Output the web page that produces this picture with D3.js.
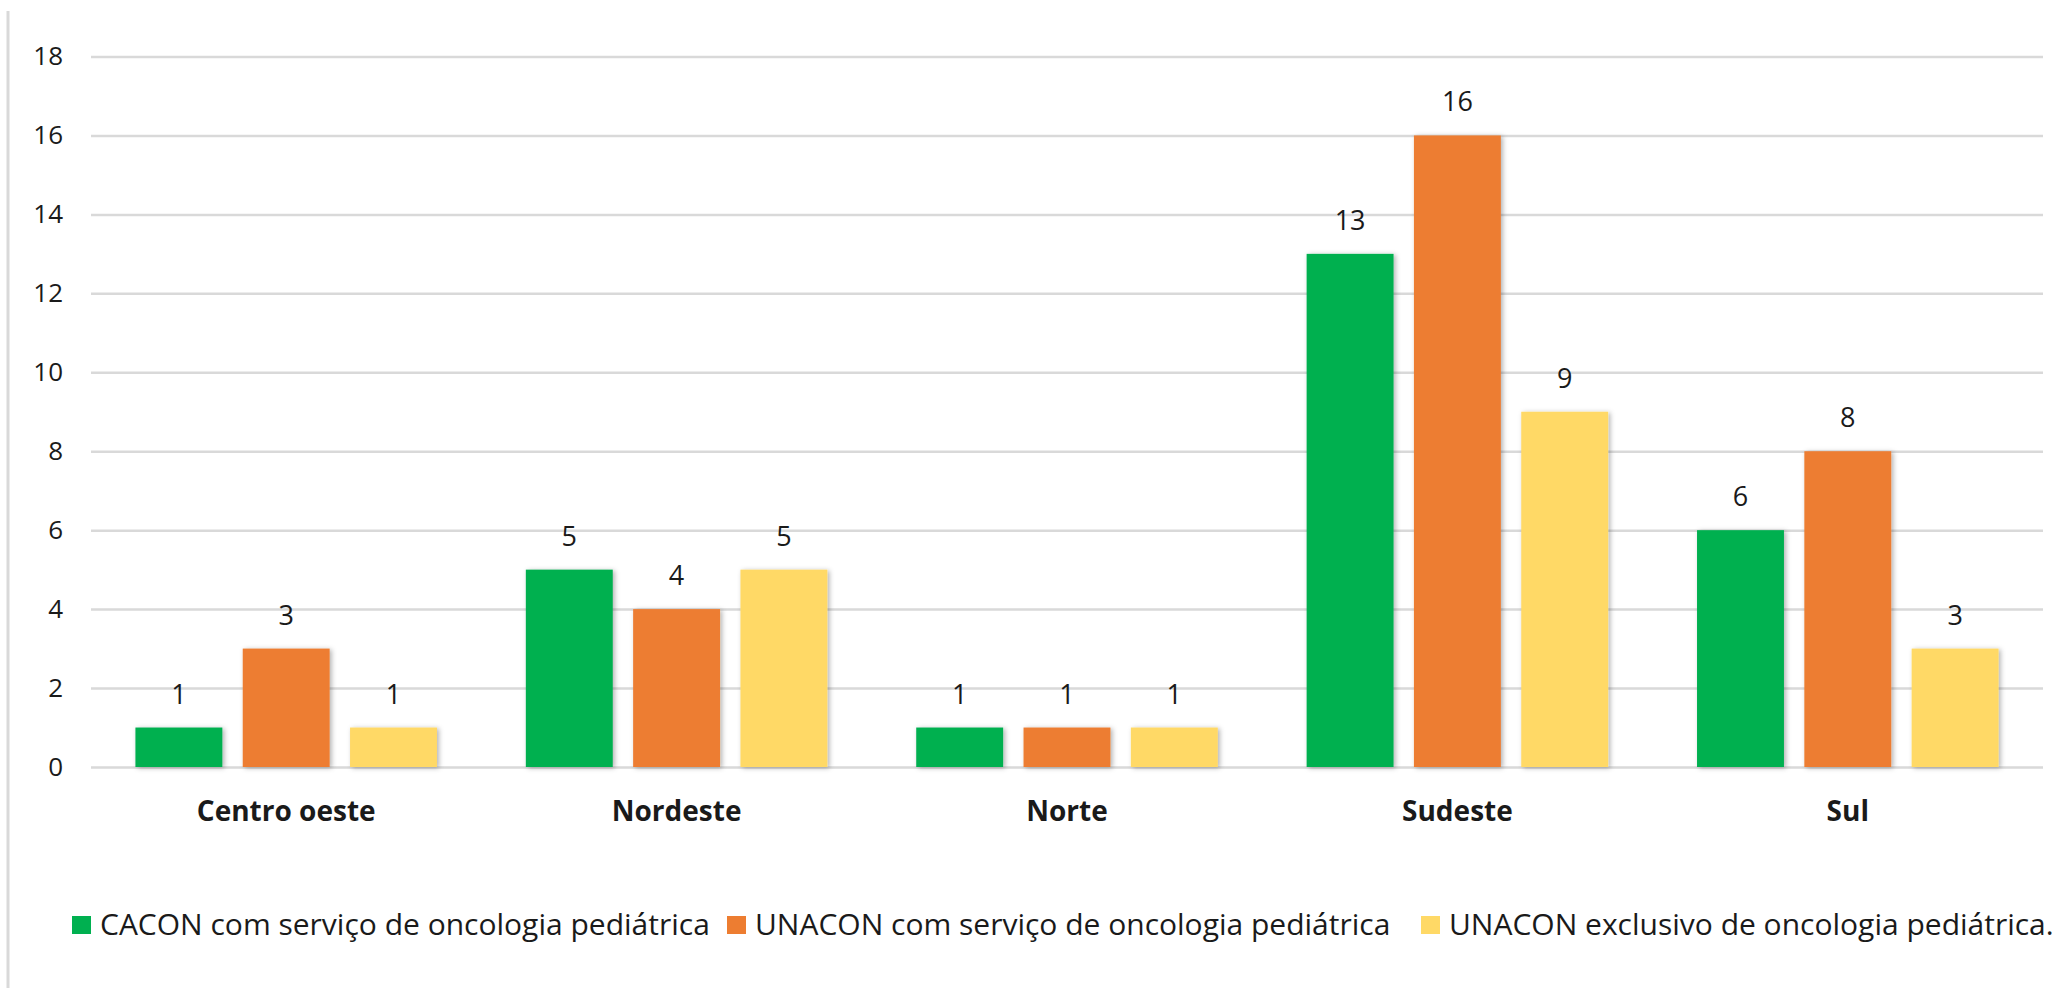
<!DOCTYPE html>
<html>
<head>
<meta charset="utf-8">
<script src="https://cdn.jsdelivr.net/npm/d3@7"></script>
<style>
  body { margin: 0; background: #fff; }
  svg { display: block; }
  text { font-family: "Open Sans", Lato, sans-serif; fill: #1a1a1a; }
</style>
</head>
<body>
<div class="chart"></div>
<script>
const regions = ["Centro oeste", "Nordeste", "Norte", "Sudeste", "Sul"]
const seriesNames = [
  "CACON com serviço de oncologia pediátrica",
  "UNACON com serviço de oncologia pediátrica",
  "UNACON exclusivo de oncologia pediátrica."
]
const cacon = [1, 5, 1, 13, 6]
const unaconServico = [3, 4, 1, 16, 8]
const unaconExclusivo = [1, 5, 1, 9, 3]
const yTicks = [0, 2, 4, 6, 8, 10, 12, 14, 16, 18]
const colors = ["#00B050", "#ED7D31", "#FFD966"]

let width = 2060, height = 988
let margin = { left: 91, right: 17, top: 56.5, bottom: 221 }
let svg = d3.select(".chart")
  .append("svg")
  .attr("width", width)
  .attr("height", height)

// sombra das barras
let defs = svg.append("defs")
let filter = defs.append("filter")
  .attr("id", "shadow")
  .attr("x", "-20%").attr("y", "-20%")
  .attr("width", "140%").attr("height", "140%")
filter.append("feDropShadow")
  .attr("dx", 2).attr("dy", 1)
  .attr("stdDeviation", 2.5)
  .attr("flood-color", "#000")
  .attr("flood-opacity", 0.3)

// borda esquerda
svg.append("line")
  .attr("x1", 8).attr("x2", 8)
  .attr("y1", 11).attr("y2", height)
  .attr("stroke", "#d9d9d9")
  .attr("stroke-width", 3)

let x0 = d3.scaleBand()
  .domain(regions)
  .range([margin.left, width - margin.right])
let x1 = d3.scaleBand()
  .domain(d3.range(3))
  .range([0, x0.bandwidth()])
  .paddingInner(0.19)
  .paddingOuter(0.414)
let y = d3.scaleLinear()
  .domain([0, 18])
  .range([height - margin.bottom, margin.top])

// grade
let yAxis = svg.append("g")
  .attr("transform", `translate(${margin.left},0)`)
  .call(d3.axisLeft(y)
    .tickValues(yTicks)
    .tickSize(-(width - margin.left - margin.right))
    .tickPadding(28))
yAxis.select(".domain").remove()
yAxis.selectAll(".tick line")
  .attr("stroke", "#d9d9d9")
  .attr("stroke-width", 2.5)
yAxis.selectAll(".tick text")
  .attr("font-size", 26)
  .attr("font-family", "'Open Sans', sans-serif")
  .attr("fill", "#1a1a1a")

let series = [cacon, unaconServico, unaconExclusivo]
let data = []
regions.forEach((r, i) => {
  series.forEach((s, j) => {
    data.push({ region: r, k: j, value: s[i] })
  })
})

let barG = svg.append("g")
barG.selectAll("rect")
  .data(data)
  .enter()
  .append("rect")
  .attr("x", d => x0(d.region) + x1(d.k))
  .attr("y", d => y(d.value))
  .attr("width", x1.bandwidth())
  .attr("height", d => y(0) - y(d.value))
  .attr("fill", d => colors[d.k])
  .attr("filter", "url(#shadow)")

barG.selectAll("text")
  .data(data)
  .enter()
  .append("text")
  .attr("x", d => x0(d.region) + x1(d.k) + x1.bandwidth() / 2)
  .attr("y", d => y(d.value) - 24)
  .attr("text-anchor", "middle")
  .attr("font-size", 27)
  .text(d => d.value)

// rótulos das regiões
svg.append("g")
  .selectAll("text")
  .data(regions)
  .enter()
  .append("text")
  .attr("x", d => x0(d) + x0.bandwidth() / 2)
  .attr("y", 821)
  .attr("text-anchor", "middle")
  .attr("font-size", 28)
  .attr("font-weight", "bold")
  .text(d => d)

// legenda
let legendX = [72, 727, 1421]
let legend = svg.append("g")
seriesNames.forEach((name, i) => {
  legend.append("rect")
    .attr("x", legendX[i])
    .attr("y", 916)
    .attr("width", 19)
    .attr("height", 18)
    .attr("fill", colors[i])
  legend.append("text")
    .attr("x", legendX[i] + 28)
    .attr("y", 935)
    .attr("font-size", 30)
    .text(name)
})
</script>
</body>
</html>
